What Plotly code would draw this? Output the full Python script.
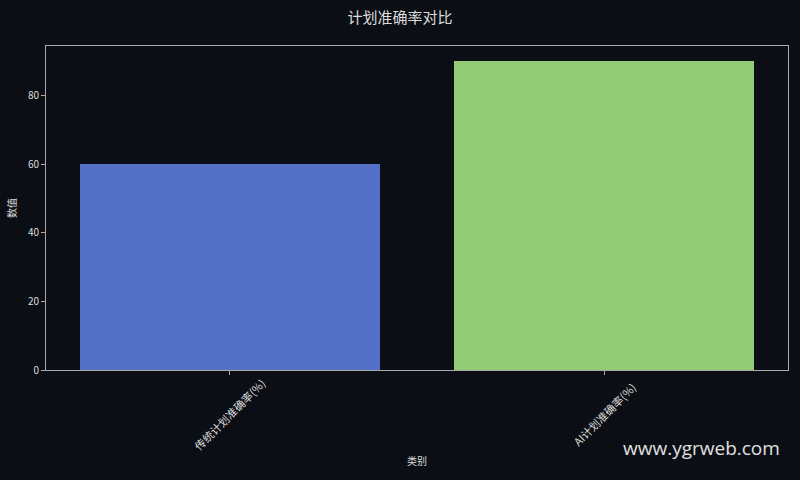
import plotly.graph_objects as go

categories = ["传统计划准确率(%)", "AI计划准确率(%)"]
values = [60, 90]
colors = ["#5470c6", "#91cc75"]
title = "计划准确率对比"
x_title = "类别"
y_title = "数值"
watermark = "www.ygrweb.com"

bg = "#0b0e14"
fg = "#dddddd"
axis_col = "#aaaaaa"
font_family = "Noto Sans CJK SC, DejaVu Sans, sans-serif"

plot_h = 480 - 46 - 110

fig = go.Figure()
fig.add_trace(go.Bar(
    x=list(range(len(categories))),
    y=values,
    width=0.8,
    marker=dict(color=colors, line=dict(color=colors, width=0)),
    hoverinfo="skip",
))

fig.update_layout(
    width=800, height=480,
    paper_bgcolor=bg, plot_bgcolor=bg,
    margin=dict(l=46, r=12, t=46, b=110),
    font=dict(family=font_family, color=fg, size=10),
    title=dict(text=title, x=0.5, xanchor="center", y=1 - 18 / 480, yanchor="middle",
               font=dict(size=15, color=fg)),
    showlegend=False,
    bargap=0,
)
fig.update_xaxes(
    range=[-0.49, 1.49],
    tickmode="array",
    tickvals=list(range(len(categories))),
    showticklabels=False,
    ticks="outside", ticklen=4, tickcolor=axis_col,
    showline=True, linecolor=axis_col, linewidth=1, mirror=True,
    showgrid=False, zeroline=False,
    title=dict(text=x_title, font=dict(size=10, color=fg), standoff=83),
)
fig.update_yaxes(
    range=[0, 94.5],
    tickvals=[0, 20, 40, 60, 80],
    ticks="outside", ticklen=4, tickcolor=axis_col,
    showline=True, linecolor=axis_col, linewidth=1, mirror=True,
    showgrid=False, zeroline=False,
    tickfont=dict(size=10, color=fg),
    title=dict(text=y_title, font=dict(size=10, color=fg), standoff=9),
)
# rotated category labels centred under their ticks (matplotlib style)
for i, cat in enumerate(categories):
    fig.add_annotation(
        text=cat, x=i, xref="x", y=-(414 - 370) / plot_h, yref="paper",
        xanchor="center", yanchor="middle", textangle=-45, showarrow=False,
        font=dict(size=11, color=fg),
    )
fig.add_annotation(
    text=watermark, xref="paper", yref="paper",
    x=(782 - 46) / 742, y=-(448 - 370) / plot_h,
    xanchor="right", yanchor="middle", showarrow=False,
    font=dict(family="Open Sans, Noto Sans, sans-serif", size=19, color="#e0e0e0"),
)

fig.write_html("out.html", config={"displayModeBar": False})

with open("out.html", encoding="utf-8") as f:
    html = f.read()
html = html.replace("<head>", "<head><style>html,body{margin:0;padding:0;background:#0b0e14;overflow:hidden}</style>", 1)
with open("out.html", "w", encoding="utf-8") as f:
    f.write(html)
